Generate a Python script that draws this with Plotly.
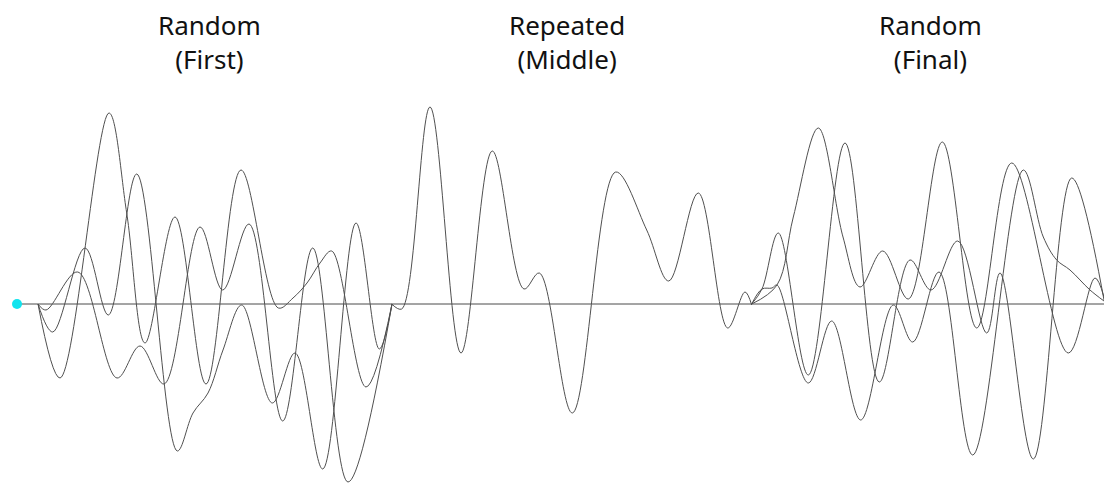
import plotly.graph_objects as go

# ---- data (time position, amplitude relative to baseline) ----
first_a_t = [38, 46, 77.7, 117, 140, 164, 200, 222.7, 249, 282.7, 312.7, 348, 392]
first_a_v = [0, -6, 32, -74, -42, -80, 77, 14, 80, -117, 56, -178, 0]

first_b_t = [38, 52.7, 85, 108.3, 136.7, 177.3, 193, 208, 223, 241.7, 272.3, 295, 322.7, 356, 379.3, 392]
first_b_v = [0, -28, 56, -11, 130, -147, -109, -89, -46, -1, -99, -49, -165, 81, -45, 0]

first_c_t = [38, 60, 109, 126.7, 145, 175, 206, 241, 278.3, 293, 307, 320, 331.7, 366, 392]
first_c_v = [0, -74, 191, 91, -39, 87, -80, 134, -4, 6, 21, 41, 53, -83, 0]

middle_t = [391.7, 401.7, 430, 461, 492.3, 524, 539.3, 572.3, 615.7, 646.7, 668.7, 698.3, 727.7, 745, 751.7]
middle_v = [0, -5, 197, -49, 153, 15, 31, -109, 132, 74, 23, 111, -24, 12, -1]

final_a_t = [751.7, 762, 778.3, 808.3, 845, 879.3, 910, 931, 957.7, 986.7, 1000, 1033.3, 1071.7, 1104]
final_a_v = [0, 15, 71, -71, 161, -78, 44, 14, 63, -29, 31, -155, 126, 4]

final_b_t = [751.7, 762, 772, 777, 808.3, 831.7, 860.7, 893.3, 912.7, 939, 972.7, 1023.3, 1043.3, 1056.7, 1070, 1090, 1104]
final_b_v = [0, 15, 16, 19, -79, -17, -116, -1, -38, 32, -151, 134, 67, 44, 34, 14, 3]

final_c_t = [751.7, 777, 793.3, 818.3, 843, 860, 882.7, 908.3, 942.3, 976.7, 1011.7, 1068.3, 1095, 1104]
final_c_v = [0, 19, 87, 176, 67, 17, 53, 5, 162, -24, 141, -49, 26, 7]

baseline_t = [17, 1104]
baseline_v = [0, 0]
start_t = [17]
start_v = [0]

titles = ["Random<br>(First)", "Repeated<br>(Middle)", "Random<br>(Final)"]
title_t = [209, 567, 930]

# ---- figure ----
fig = go.Figure()
fig.add_trace(go.Scatter(x=baseline_t, y=baseline_v, mode="lines",
                         line=dict(color="#4a4a4a", width=1), hoverinfo="skip"))

curves = [(first_a_t, first_a_v), (first_b_t, first_b_v), (first_c_t, first_c_v),
          (middle_t, middle_v),
          (final_a_t, final_a_v), (final_b_t, final_b_v), (final_c_t, final_c_v)]
for t, v in curves:
    fig.add_trace(go.Scatter(x=t, y=v, mode="lines",
                             line=dict(color="#505050", width=1, shape="spline", smoothing=1)))

fig.add_trace(go.Scatter(x=start_t, y=start_v, mode="markers",
                         marker=dict(color="#12E4EE", size=10)))

for txt, t in zip(titles, title_t):
    fig.add_annotation(x=t, y=299, xref="x", yref="y", text=txt, showarrow=False,
                       yanchor="top", xanchor="center", align="center",
                       font=dict(family="Noto Sans", size=26, color="#111111"))

fig.update_layout(
    width=1104, height=484,
    margin=dict(l=0, r=0, t=0, b=0),
    paper_bgcolor="white", plot_bgcolor="white",
    showlegend=False,
    xaxis=dict(range=[0, 1104], visible=False, fixedrange=True),
    yaxis=dict(range=[-180, 304], visible=False, fixedrange=True),
)
fig.write_html("out.html", config={"displayModeBar": False},
               post_script="document.body.style.margin='0';document.body.style.overflow='hidden';")
